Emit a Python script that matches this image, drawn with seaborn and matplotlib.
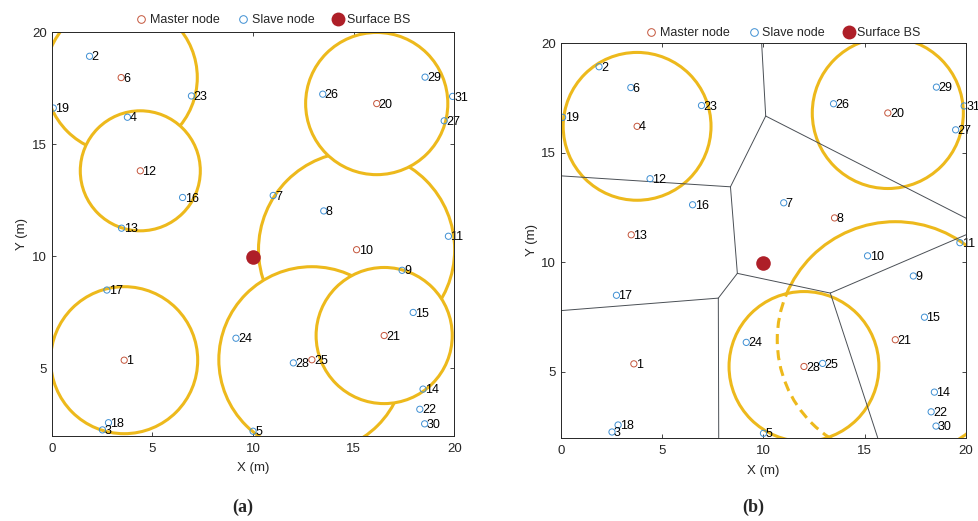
import matplotlib.pyplot as plt
import numpy as np
import pandas as pd
import seaborn as sns
from matplotlib.lines import Line2D
from matplotlib.patches import Ellipse

# node positions (m), node i is at index i-1
node_ids = list(range(1, 32))
node_x = [3.60, 1.88, 2.52, 3.76, 10.00, 3.45, 11.00, 13.51, 17.40, 15.14,
          19.70, 4.40, 3.47, 18.44, 17.95, 6.50, 2.74, 2.82, 0.08, 16.14,
          16.51, 18.28, 6.94, 9.15, 12.92, 13.46, 19.49, 12.00, 18.54, 18.52,
          19.91]
node_y = [5.37, 18.93, 2.26, 16.21, 2.20, 17.98, 12.72, 12.03, 9.38, 10.30,
          10.90, 13.82, 11.26, 4.08, 7.50, 12.63, 8.50, 2.58, 16.62, 16.82,
          6.47, 3.18, 17.16, 6.35, 5.39, 17.24, 16.05, 5.25, 18.00, 2.53,
          17.14]
bs_x = [10.0]
bs_y = [9.97]

masters_a = [1, 6, 10, 12, 20, 21, 25]
masters_b = [1, 4, 8, 13, 20, 21, 28]

# coverage circles: (master node, radius in m along x), drawn in this order
circles_a = [(6, 3.78), (12, 2.98), (10, 4.87), (20, 3.53), (25, 4.62),
             (21, 3.38), (1, 3.65)]
circles_b = [(4, 3.65), (20, 3.73), (21, 5.83), (28, 3.70)]

# Voronoi edges of panel (b)
voronoi_edges = [
    ((9.91, 20.0), (10.11, 16.68)),
    ((10.11, 16.68), (8.37, 13.45)),
    ((10.11, 16.68), (20.0, 12.02)),
    ((0.0, 13.95), (8.37, 13.45)),
    ((8.37, 13.45), (8.71, 9.50)),
    ((8.71, 9.50), (7.77, 8.37)),
    ((7.77, 8.37), (7.79, 2.0)),
    ((0.0, 7.80), (7.77, 8.37)),
    ((8.71, 9.50), (13.30, 8.60)),
    ((13.30, 8.60), (15.64, 2.0)),
    ((13.30, 8.60), (20.0, 11.26)),
]

MASTER = "#C4553B"
SLAVE = "#3E8FD3"
YELLOW = "#EDB91C"
BS = "#AE1F28"

sns.set_theme(style="ticks")
plt.rcParams["font.family"] = ["Liberation Sans", "DejaVu Sans"]

df = pd.DataFrame({"id": node_ids, "x": node_x, "y": node_y})


def circle(ax, node, r, k, **kw):
    row = df[df["id"] == node].iloc[0]
    e = Ellipse((row["x"], row["y"]), 2 * r, 2 * r * k, **kw)
    ax.add_patch(e)
    return e


def setup_axes(ax, ylab_x, xlab_y):
    ax.set_xlim(0, 20)
    ax.set_ylim(2, 20)
    ax.set_xticks([0, 5, 10, 15, 20])
    ax.set_yticks([5, 10, 15, 20])
    ax.tick_params(direction="in", top=True, right=True, length=3,
                   width=0.6, labelsize=9.5, colors="#262626")
    ax.tick_params(axis="x", pad=5)
    ax.tick_params(axis="y", pad=3.5)
    for s in ax.spines.values():
        s.set_linewidth(0.7)
        s.set_color("#262626")
        s.set_zorder(6)
    ax.set_xlabel("X (m)", fontsize=9.5)
    ax.set_ylabel("Y (m)", fontsize=9.5)
    ax.xaxis.set_label_coords(0.5, xlab_y)
    ax.yaxis.set_label_coords(ylab_x, 0.5)
    bb = ax.get_window_extent()
    return (bb.width / 20) / (bb.height / 18)


def draw_nodes(ax, masters, leg_y):
    role = df["id"].isin(masters)
    sns.scatterplot(data=df[role], x="x", y="y", ax=ax, marker="o", s=20,
                    facecolors="none", edgecolor=MASTER, color=MASTER,
                    linewidth=0.7, zorder=5, legend=False)
    sns.scatterplot(data=df[~role], x="x", y="y", ax=ax, marker="o", s=20,
                    facecolors="none", edgecolor=SLAVE, color=SLAVE,
                    linewidth=0.7, zorder=5, legend=False)
    ax.scatter(bs_x, bs_y, s=110, color=BS, zorder=5, linewidths=0)
    for i, x, y in zip(node_ids, node_x, node_y):
        ax.text(x + 0.1, y - 0.05, str(i), fontsize=9, va="center",
                ha="left", color="black", zorder=5)
    handles = [
        Line2D([], [], ls="", marker="o", ms=5.5, mfc="none", mec=MASTER,
               mew=0.7, label="Master node"),
        Line2D([], [], ls="", marker="o", ms=5.5, mfc="none", mec=SLAVE,
               mew=0.7, label="Slave node"),
        Line2D([], [], ls="", marker="o", ms=10, color=BS, mew=0,
               label="Surface BS"),
    ]
    ax.legend(handles=handles, loc="center", bbox_to_anchor=(0.548, leg_y),
              ncol=3, frameon=False, fontsize=9, handletextpad=0.2,
              columnspacing=1.4, handlelength=1.0, borderaxespad=0)


fig = plt.figure(figsize=(9.79, 5.21), dpi=100)
ax_a = fig.add_axes([0.0528, 0.1637, 0.4114, 0.7743])
ax_b = fig.add_axes([0.5730, 0.1599, 0.4137, 0.7570])

# panel (a)
k_a = setup_axes(ax_a, -0.058, -0.066)
for n, (node, r) in enumerate(circles_a):
    circle(ax_a, node, r, k_a, facecolor="white", edgecolor=YELLOW,
           linewidth=2.2, zorder=1 + n * 0.1)
draw_nodes(ax_a, masters_a, 1.03)

# panel (b)
k_b = setup_axes(ax_b, -0.056, -0.068)
circle(ax_b, 4, 3.65, k_b, facecolor="none", edgecolor=YELLOW, lw=2.2, zorder=1)
circle(ax_b, 20, 3.73, k_b, facecolor="none", edgecolor=YELLOW, lw=2.2, zorder=1)
r21 = dict(circles_b)[21]
circle(ax_b, 21, r21, k_b, facecolor="none", edgecolor=YELLOW, lw=2.2, zorder=1)
c28 = circle(ax_b, 28, dict(circles_b)[28], k_b, facecolor="white",
             edgecolor=YELLOW, lw=2.2, zorder=1.5)
dashed = circle(ax_b, 21, r21, k_b, facecolor="none", edgecolor=YELLOW,
                lw=2.2, zorder=1.6, linestyle=(0, (3.3, 2.0)))
dashed.set_clip_path(c28)
for (x0, y0), (x1, y1) in voronoi_edges:
    ax_b.plot([x0, x1], [y0, y1], color="#4a4f55", lw=0.7, zorder=3)
draw_nodes(ax_b, masters_b, 1.026)

fig.text(0.248, 0.027, "(a)", fontsize=13, fontweight="bold",
         family="Liberation Serif", ha="center", va="center")
fig.text(0.769, 0.027, "(b)", fontsize=13, fontweight="bold",
         family="Liberation Serif", ha="center", va="center")

fig.savefig("out.png", dpi=100)
